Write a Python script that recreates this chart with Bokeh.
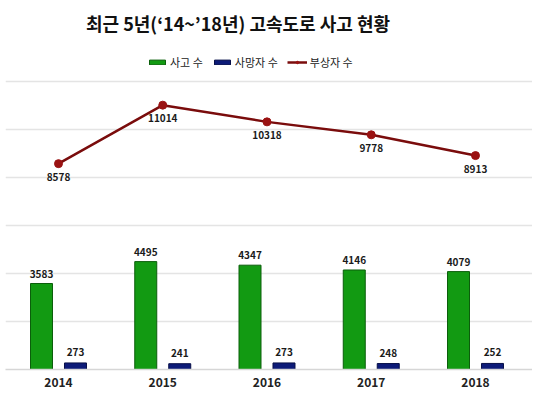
from bokeh.plotting import figure
from bokeh.models import (ColumnDataSource, FixedTicker, Range1d, Legend, LegendItem, Label)
from bokeh.core.properties import value
from bokeh.embed import file_html
from bokeh.resources import INLINE

years = ["2014", "2015", "2016", "2017", "2018"]
accidents = [3583, 4495, 4347, 4146, 4079]
deaths = [273, 241, 273, 248, 252]
injuries = [8578, 11014, 10318, 9778, 8913]
grid_ticks = [0, 2000, 4000, 6000, 8000, 10000, 12000]

idx = list(range(len(years)))
src = ColumnDataSource(dict(
    x=idx,
    xg=[i - 0.163 for i in idx],
    xn=[i + 0.163 for i in idx],
    acc=accidents, dth=deaths, inj=injuries,
    acc_t=[str(v) for v in accidents],
    dth_t=[str(v) for v in deaths],
    inj_t=[str(v) for v in injuries],
))

FONT = "Noto Sans CJK KR"

p = figure(width=532, height=390, output_backend="svg", toolbar_location=None,
           x_range=Range1d(-0.5084, 4.5468), y_range=Range1d(0, 15375),
           min_border_left=5, min_border_right=0, min_border_top=0,
           min_border_bottom=21, outline_line_color=None)

p.xgrid.visible = False
p.yaxis.visible = False
p.yaxis.ticker = FixedTicker(ticks=grid_ticks)
p.ygrid.ticker = FixedTicker(ticks=grid_ticks)
p.ygrid.grid_line_color = "#e4e4e4"
p.ygrid.grid_line_width = 1.5

p.xaxis.ticker = FixedTicker(ticks=idx)
p.xaxis.major_label_overrides = {i: y for i, y in zip(idx, years)}
p.xaxis.major_tick_line_color = None
p.xaxis.major_tick_out = 0
p.xaxis.major_tick_in = 0
p.xaxis.minor_tick_line_color = None
p.xaxis.axis_line_color = "#d6d6d6"
p.xaxis.axis_line_width = 1.5
p.xaxis.major_label_standoff = 8
p.xaxis.major_label_text_font = FONT
p.xaxis.major_label_text_font_style = "bold"
p.xaxis.major_label_text_font_size = "12px"
p.xaxis.major_label_text_color = "#222222"

r_acc = p.vbar(x="xg", top="acc", width=0.211, bottom=0, source=src,
               fill_color="#129a12", line_color="#0b5e0b", line_width=1)
r_dth = p.vbar(x="xn", top="dth", width=0.211, bottom=0, source=src,
               fill_color="#0d1b78", line_color="#070f48", line_width=1)
r_line = p.line(x="x", y="inj", source=src, line_color="#7a0c0c", line_width=2.5)
r_pts = p.scatter(x="x", y="inj", source=src, size=8, fill_color="#9a1212",
                  line_color="#9a1212")

lbl_kw = dict(text_font=value(FONT), text_font_size="10px", text_font_style="bold",
              text_color="#1a1a1a", text_align="center", text_baseline="middle")
p.text(x="xg", y="acc", text="acc_t", source=src, y_offset=-10, **lbl_kw)
p.text(x="xn", y="dth", text="dth_t", source=src, y_offset=-11, **lbl_kw)
p.text(x="x", y="inj", text="inj_t", source=src, y_offset=13, **lbl_kw)

title = Label(x=1.722, y=14458, text="최근 5년(‘14~’18년) 고속도로 사고 현황",
              text_font=FONT, text_font_size="18px", text_font_style="bold",
              text_color="#111111", text_align="center", text_baseline="middle")
p.add_layout(title)

legend = Legend(items=[
    LegendItem(label="사고 수", renderers=[r_acc]),
    LegendItem(label="사망자 수", renderers=[r_dth]),
    LegendItem(label="부상자 수", renderers=[r_line, r_pts]),
], orientation="horizontal", location=(142, 299), padding=0, spacing=9,
    glyph_width=20, glyph_height=6, label_standoff=3, label_height=14,
    label_text_font=FONT, label_text_font_size="11px", label_text_color="#222222",
    border_line_color=None, background_fill_alpha=0, margin=0)
p.add_layout(legend)

open("out.html", "w").write(file_html(p, INLINE))
